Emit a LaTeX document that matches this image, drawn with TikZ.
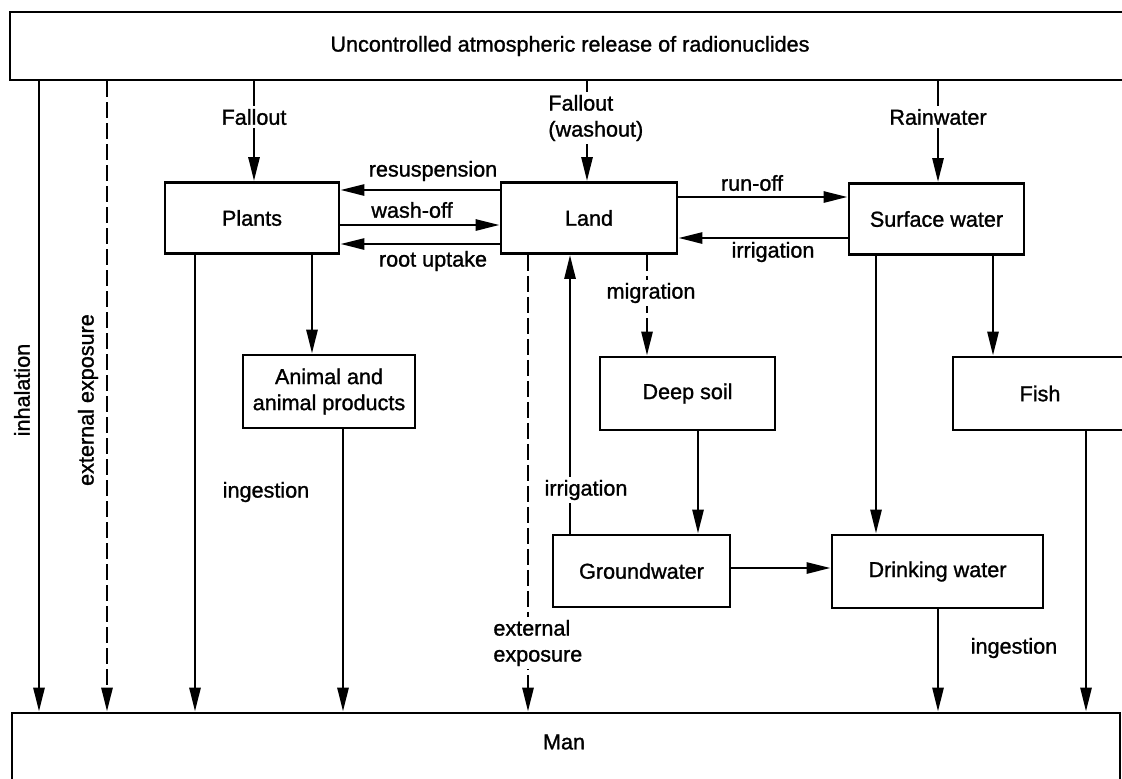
\documentclass[tikz,border=0pt]{standalone}
\usepackage{fontspec}
\setmainfont{Liberation Sans}[FakeBold=1.2]
\usetikzlibrary{arrows.meta}
\begin{document}
\begin{tikzpicture}[x=0.5pt,y=-0.5pt,
  every node/.style={font=\fontsize{10.8}{13}\selectfont},
  box/.style={draw, line width=1.4pt, inner sep=0pt, align=center, minimum height=35.5pt},
  lbl/.style={inner sep=1.5pt, align=center},
  wlbl/.style={inner sep=1.5pt, fill=white, align=center},
  arr/.style={line width=1.4pt, -{Triangle[length=12pt,width=5.5pt]}},
  darr/.style={arr, dash pattern=on 8pt off 2.5pt}]
\useasboundingbox (0,0) rectangle (1122,778);
% boxes
\node[box, minimum width=560pt, minimum height=34pt] (release) at (570,46) {Uncontrolled atmospheric release of radionuclides};
\node[box, minimum width=554pt, minimum height=45pt] (man) at (566,758) {};
\node[lbl] (mantext) at (564,742) {Man};
\node[box, minimum width=87pt] (plants) at (252,218) {Plants};
\node[box, minimum width=88pt] (land) at (589,218) {Land};
\node[box, minimum width=87.5pt] (surface) at (936.5,219) {Surface water};
\node[box, minimum width=86pt, minimum height=36.5pt] (animal) at (329,391.5) {Animal and\\animal products};
\node[box, minimum width=87.5pt, minimum height=36.5pt] (deep) at (687.5,393.5) {Deep soil};
\node[box, minimum width=87pt, minimum height=36.5pt] (fish) at (1040,393.5) {Fish};
\node[box, minimum width=88.5pt, minimum height=36pt] (ground) at (641.5,571) {Groundwater};
\node[box, minimum width=105.5pt, minimum height=36.5pt] (drink) at (937.5,571.5) {Drinking water};
% from release
\draw[arr] (39,0 |- release.south) -- (39,0 |- man.north);
\draw[darr] (107,0 |- release.south) -- (107,0 |- man.north);
\draw[arr] (254,0 |- release.south) -- (254,0 |- plants.north);
\draw[arr] (587,0 |- release.south) -- (587,0 |- land.north);
\draw[arr] (938,0 |- release.south) -- (938,0 |- surface.north);
\node[wlbl] (fallout1) at (254,117) {Fallout};
\node[wlbl, align=left, anchor=west] (fallout2) at (545,118) {Fallout\\(washout)};
\node[wlbl] (rain) at (938,117) {Rainwater};
\node[lbl, rotate=90] (inhal) at (22,390) {inhalation};
\node[lbl, rotate=90] (extexp1) at (88,400) {external exposure};
% plants - land
\draw[arr] (land.west |- 0,190) -- (plants.east |- 0,190);
\draw[arr] (plants.east |- 0,225) -- (land.west |- 0,225);
\draw[arr] (land.west |- 0,244) -- (plants.east |- 0,244);
\node[lbl] (resusp) at (433,171) {resuspension};
\node[lbl] (washoff) at (412,210) {wash-off};
\node[lbl] (rootup) at (433,261) {root uptake};
% land - surface
\draw[arr] (land.east |- 0,197) -- (surface.west |- 0,197);
\draw[arr] (surface.west |- 0,238) -- (land.east |- 0,238);
\node[lbl] (runoff) at (752,183) {run-off};
\node[lbl] (irr1) at (773,252) {irrigation};
% plants downwards
\draw[arr] (195,0 |- plants.south) -- (195,0 |- man.north);
\draw[arr] (312,0 |- plants.south) -- (312,0 |- animal.north);
\draw[arr] (343,0 |- animal.south) -- (343,0 |- man.north);
\node[lbl] (ingest1) at (266,492) {ingestion};
% land downwards
\draw[darr] (528,0 |- land.south) -- (528,0 |- man.north);
\node[wlbl, align=left, anchor=west] (extexp2) at (490,643) {external\\exposure};
\draw[arr] (570,0 |- ground.north) -- (570,0 |- land.south);
\node[wlbl] (irr2) at (586,490) {irrigation};
\draw[darr] (647,0 |- land.south) -- (647,0 |- deep.north);
\node[wlbl] (migr) at (651,293) {migration};
\draw[arr] (698,0 |- deep.south) -- (698,0 |- ground.north);
\draw[arr] (ground.east |- 0,568) -- (drink.west |- 0,568);
% surface downwards
\draw[arr] (876,0 |- surface.south) -- (876,0 |- drink.north);
\draw[arr] (993,0 |- surface.south) -- (993,0 |- fish.north);
\draw[arr] (938,0 |- drink.south) -- (938,0 |- man.north);
\draw[arr] (1086,0 |- fish.south) -- (1086,0 |- man.north);
\node[lbl] (ingest2) at (1014,648) {ingestion};
\end{tikzpicture}
\end{document}
